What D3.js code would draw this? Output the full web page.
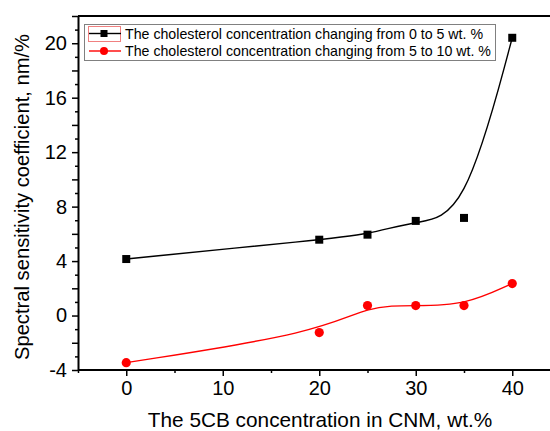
<!DOCTYPE html>
<html>
<head>
<meta charset="utf-8">
<script src="https://cdn.jsdelivr.net/npm/d3@7"></script>
<style>
    body { margin: 0; background: #fff; }
    svg { display: block; font-family: Arial, "Liberation Sans", sans-serif; }
</style>
</head>
<body>
<div id="chart"></div>
<script>
// 5CB concentration in CNM, wt.%
const cnm = [0, 20, 25, 30, 35, 40];
// spectral sensitivity coefficient, nm/%
const sens_0_to_5 = [4.15, 5.57, 5.94, 6.95, 7.17, 20.4];
const sens_5_to_10 = [-3.46, -1.25, 0.73, 0.73, 0.73, 2.35];

const series_names = [
    "The cholesterol concentration changing from 0 to 5 wt. %",
    "The cholesterol concentration changing from 5 to 10 wt. %"
];
const x_major_ticks = [0, 10, 20, 30, 40];
const x_minor_ticks = [-5, 5, 15, 25, 35, 45];
const y_major_ticks = d3.range(-4, 23, 2);
const y_minor_ticks = d3.range(-3, 22, 2);
const y_labels = [-4, 0, 4, 8, 12, 16, 20];

let svg_width = 550, svg_height = 431;
let plot_left = 78, plot_top = 16, plot_bottom = 370;

let svg = d3.select("#chart")
    .append("svg")
        .attr("width", svg_width)
        .attr("height", svg_height);

// Scales.
let x_scale = d3.scaleLinear().domain([-5, 45]).range([plot_left, plot_left + 50 * 9.65]);
let y_scale = d3.scaleLinear().domain([-4, 22]).range([plot_bottom, plot_top]);

// Minor ticks first, majors on top.
svg.append("g")
    .attr("transform", "translate(0," + plot_bottom + ")")
    .call(d3.axisBottom(x_scale).tickValues(x_minor_ticks).tickSize(3).tickSizeOuter(0).tickFormat(""))
    .call(g => g.select(".domain").remove());
svg.append("g")
    .attr("transform", "translate(" + plot_left + ",0)")
    .call(d3.axisLeft(y_scale).tickValues(y_minor_ticks).tickSize(3).tickSizeOuter(0).tickFormat(""))
    .call(g => g.select(".domain").remove());

let x_axis = svg.append("g")
    .attr("transform", "translate(0," + plot_bottom + ")")
    .call(d3.axisBottom(x_scale).tickValues(x_major_ticks).tickSize(6).tickSizeOuter(0).tickPadding(5).tickFormat(d => String(d)));
x_axis.selectAll("text").style("font-size", "20px").attr("fill", "#000");
// The frame is cut off at the right edge of the picture.
x_axis.select(".domain").attr("d", "M" + plot_left + ",0H" + svg_width);

let y_axis = svg.append("g")
    .attr("transform", "translate(" + plot_left + ",0)")
    .call(d3.axisLeft(y_scale).tickValues(y_major_ticks).tickSize(6).tickSizeOuter(0).tickPadding(5)
        .tickFormat(d => y_labels.includes(d) ? String(d) : ""));
y_axis.selectAll("text").style("font-size", "20px").attr("fill", "#000");

svg.selectAll(".domain").attr("stroke-width", 2);
svg.selectAll(".tick line").attr("stroke-width", 1.5);

// Top frame line.
svg.append("line")
    .attr("x1", plot_left).attr("x2", svg_width)
    .attr("y1", plot_top).attr("y2", plot_top)
    .attr("stroke", "#000")
    .attr("stroke-width", 2);

// Curves.
let line = d3.line()
    .x(d => x_scale(d[0]))
    .y(d => y_scale(d[1]))
    .curve(d3.curveBasis);

let black_pts = cnm.map((c, i) => [c, sens_0_to_5[i]]);
let red_pts = cnm.map((c, i) => [c, sens_5_to_10[i]]);

svg.append("path")
    .datum(black_pts)
    .attr("fill", "none")
    .attr("stroke", "#000")
    .attr("stroke-width", 1.4)
    .attr("d", line);
svg.append("path")
    .datum(red_pts)
    .attr("fill", "none")
    .attr("stroke", "#ff0000")
    .attr("stroke-width", 1.4)
    .attr("d", line);

svg.selectAll(".sq")
    .data(black_pts)
    .enter()
    .append("rect")
        .attr("x", d => x_scale(d[0]) - 4)
        .attr("y", d => y_scale(d[1]) - 4)
        .attr("width", 8)
        .attr("height", 8)
        .attr("fill", "#000");
svg.selectAll(".dot")
    .data(red_pts)
    .enter()
    .append("circle")
        .attr("cx", d => x_scale(d[0]))
        .attr("cy", d => y_scale(d[1]))
        .attr("r", 4.6)
        .attr("fill", "#ff0000");

// Legend.
let legend = svg.append("g");
legend.append("rect")
    .attr("x", 84.5).attr("y", 24.5)
    .attr("width", 411).attr("height", 36)
    .attr("fill", "#fff")
    .attr("stroke", "#808080")
    .attr("stroke-width", 1);
legend.append("rect")
    .attr("x", 88.5).attr("y", 26.5)
    .attr("width", 32).attr("height", 15)
    .attr("fill", "none")
    .attr("stroke", "#f08080")
    .attr("stroke-width", 1);

let rows = [
    { y: 33.5, color: "#000", shape: "square" },
    { y: 51, color: "#ff0000", shape: "circle" }
];
rows.forEach(function(r, i) {
    legend.append("line")
        .attr("x1", 89).attr("x2", 121)
        .attr("y1", r.y).attr("y2", r.y)
        .attr("stroke", r.color)
        .attr("stroke-width", 1.4);
    if (r.shape == "square") {
        legend.append("rect")
            .attr("x", 100.5).attr("y", r.y - 3.5)
            .attr("width", 7).attr("height", 7)
            .attr("fill", r.color);
    } else {
        legend.append("circle")
            .attr("cx", 104).attr("cy", r.y)
            .attr("r", 4)
            .attr("fill", r.color);
    }
    legend.append("text")
        .attr("x", 125)
        .attr("y", r.y)
        .attr("dy", "0.36em")
        .style("font-size", "14.2px")
        .text(series_names[i]);
});

// Axis labels.
svg.append("text")
    .attr("x", 320)
    .attr("y", 427)
    .style("text-anchor", "middle")
    .style("font-size", "20.8px")
    .text("The 5CB concentration in CNM, wt.%");

svg.append("text")
    .attr("transform", "translate(29," + 197 + ") rotate(-90)")
    .style("text-anchor", "middle")
    .style("font-size", "20.2px")
    .text("Spectral sensitivity coefficient, nm/%");
</script>
</body>
</html>
